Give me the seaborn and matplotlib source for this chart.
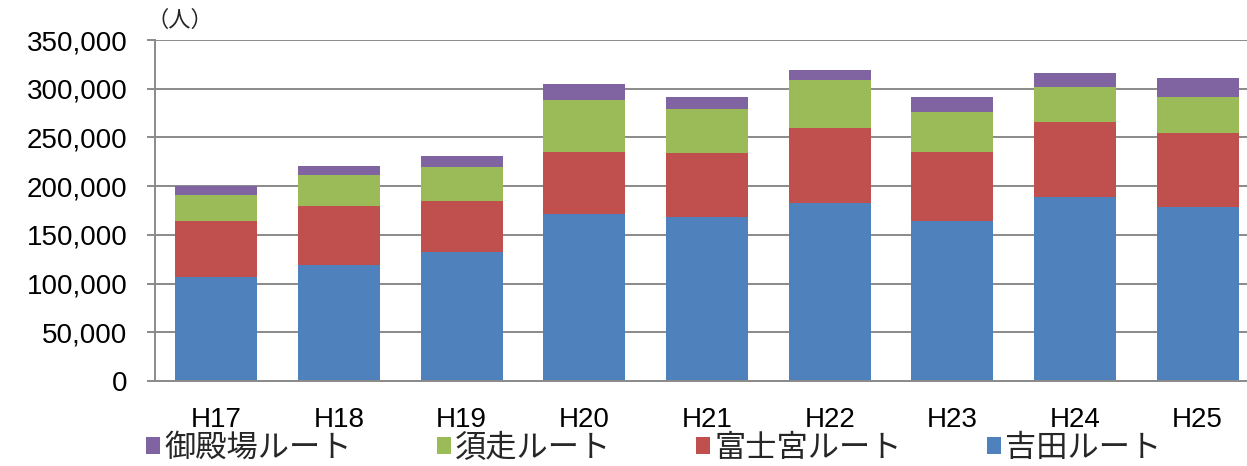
import matplotlib
matplotlib.use('Agg')
import matplotlib.pyplot as plt
import matplotlib.ticker as mticker
from matplotlib.patches import Patch
import numpy as np
import pandas as pd
import seaborn as sns

# data (people per climbing route)
years = ['H17', 'H18', 'H19', 'H20', 'H21', 'H22', 'H23', 'H24', 'H25']
yoshida = [107000, 119000, 132000, 171000, 168000, 183000, 164000, 189000, 179000]
fujinomiya = [57000, 61000, 53000, 64000, 66000, 77000, 71000, 77000, 76000]
subashiri = [27000, 31000, 35000, 53000, 45000, 49000, 41000, 36000, 37000]
gotemba = [9000, 10000, 11000, 17000, 12000, 10000, 16000, 14000, 19000]

route_names = ['吉田ルート', '富士宮ルート', '須走ルート', '御殿場ルート']
colors = ['#4F81BD', '#C0504D', '#9BBB59', '#8064A2']
y_ticks = [0, 50000, 100000, 150000, 200000, 250000, 300000, 350000]

sns.set_style('white')
plt.rcParams['font.family'] = ['Liberation Sans', 'Noto Sans CJK JP', 'DejaVu Sans']

df = pd.DataFrame({'year': years, route_names[0]: yoshida, route_names[1]: fujinomiya,
                   route_names[2]: subashiri, route_names[3]: gotemba})
cum = df[route_names].cumsum(axis=1)

fig = plt.figure(figsize=(12.47, 4.66), dpi=100)
ax = fig.add_axes([155 / 1247, 1 - 381 / 466, 1104 / 1247, 341 / 466])

# draw stacked bars: tallest cumulative first so lower segments sit on top
for name, c in reversed(list(zip(route_names, colors))):
    sns.barplot(x=df['year'], y=cum[name], color=c, saturation=1, width=0.67,
                linewidth=0, ax=ax)

grid_c = '#8a8a8a'
ax.set_ylim(0, 350000)
ax.set_xlim(-0.5, 8.5)
ax.set_yticks(y_ticks)
ax.yaxis.set_major_formatter(mticker.StrMethodFormatter('{x:,.0f}'))
ax.set_axisbelow(True)
ax.yaxis.grid(True, color=grid_c, linewidth=1.4)
ax.xaxis.grid(False)

ax.set_xticks(range(len(years)))
ax.set_xticklabels(years)
ax.set_xticks(np.arange(-0.5, len(years), 1.0), minor=True)
ax.tick_params(axis='x', which='major', length=0, pad=19, labelsize=20, colors='black')
ax.tick_params(axis='x', which='minor', length=6, width=1.4, color=grid_c, direction='out')
ax.tick_params(axis='y', length=6, width=1.4, color=grid_c, direction='out', pad=14,
               labelsize=20, labelcolor='black', left=True)
ax.set_xlabel('')
ax.set_ylabel('')

for s in ['top', 'right']:
    ax.spines[s].set_visible(False)
for s in ['left', 'bottom']:
    ax.spines[s].set_color(grid_c)
    ax.spines[s].set_linewidth(1.4)

fig.text(146 / 1247, 1 - 21 / 466, '（人）', fontsize=16, va='center', ha='left')

legend_order = [3, 2, 1, 0]
handles = [Patch(facecolor=colors[i], edgecolor='none') for i in legend_order]
labels = [route_names[i] for i in legend_order]
fig.legend(handles, labels, loc='center left', bbox_to_anchor=(146 / 1247, 1 - 449 / 466),
           ncol=4, frameon=False, fontsize=22.5, handlelength=0.45, handleheight=0.45,
           handletextpad=0.15, columnspacing=2.7, borderpad=0, borderaxespad=0)

fig.savefig('out.png', dpi=100)
